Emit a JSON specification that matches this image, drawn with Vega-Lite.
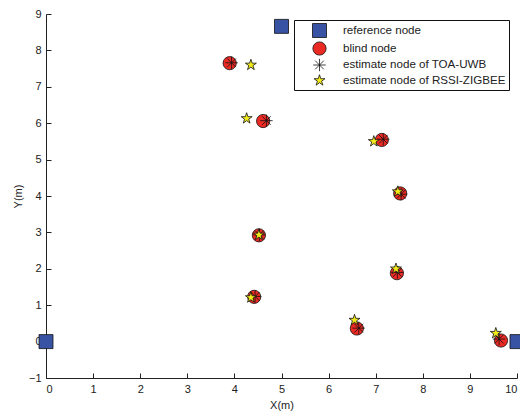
{
  "$schema": "https://vega.github.io/schema/vega-lite/v6.json",
  "autosize": {"type": "none"},
  "padding": {"left": 46, "top": 14, "right": 3, "bottom": 36},
  "width": 471,
  "height": 364,
  "background": "white",
  "config": {
    "view": {"stroke": null},
    "font": "Liberation Sans",
    "axis": {
      "grid": false,
      "domainColor": "#222",
      "tickColor": "#222",
      "labelColor": "#222",
      "titleColor": "#222",
      "labelFont": "Liberation Sans",
      "titleFont": "Liberation Sans",
      "labelFontSize": 11,
      "titleFontSize": 11,
      "titleFontWeight": "normal",
      "tickSize": -5,
      "labelPadding": 10
    }
  },
  "data": {
    "values": [
      {"type": "reference node", "x": 0, "y": 0},
      {"type": "reference node", "x": 5, "y": 8.66},
      {"type": "reference node", "x": 10, "y": 0},
      {"type": "blind node", "x": 3.9, "y": 7.65},
      {"type": "blind node", "x": 4.61, "y": 6.06},
      {"type": "blind node", "x": 7.13, "y": 5.54},
      {"type": "blind node", "x": 7.52, "y": 4.07},
      {"type": "blind node", "x": 4.52, "y": 2.92},
      {"type": "blind node", "x": 7.45, "y": 1.88},
      {"type": "blind node", "x": 4.42, "y": 1.23},
      {"type": "blind node", "x": 6.6, "y": 0.36},
      {"type": "blind node", "x": 9.66, "y": 0.03},
      {"type": "estimate node of TOA-UWB", "x": 3.94, "y": 7.66},
      {"type": "estimate node of TOA-UWB", "x": 4.68, "y": 6.07},
      {"type": "estimate node of TOA-UWB", "x": 7.16, "y": 5.56},
      {"type": "estimate node of TOA-UWB", "x": 7.54, "y": 4.05},
      {"type": "estimate node of TOA-UWB", "x": 4.53, "y": 2.93},
      {"type": "estimate node of TOA-UWB", "x": 7.46, "y": 1.9},
      {"type": "estimate node of TOA-UWB", "x": 4.44, "y": 1.24},
      {"type": "estimate node of TOA-UWB", "x": 6.64, "y": 0.37},
      {"type": "estimate node of TOA-UWB", "x": 9.62, "y": 0.07},
      {"type": "estimate node of RSSI-ZIGBEE", "x": 4.35, "y": 7.6},
      {"type": "estimate node of RSSI-ZIGBEE", "x": 4.26, "y": 6.13},
      {"type": "estimate node of RSSI-ZIGBEE", "x": 6.96, "y": 5.5},
      {"type": "estimate node of RSSI-ZIGBEE", "x": 7.47, "y": 4.12},
      {"type": "estimate node of RSSI-ZIGBEE", "x": 4.52, "y": 2.93},
      {"type": "estimate node of RSSI-ZIGBEE", "x": 7.43, "y": 2.0},
      {"type": "estimate node of RSSI-ZIGBEE", "x": 4.35, "y": 1.21},
      {"type": "estimate node of RSSI-ZIGBEE", "x": 6.55, "y": 0.59},
      {"type": "estimate node of RSSI-ZIGBEE", "x": 9.55, "y": 0.23}
    ]
  },
  "mark": {"type": "point", "filled": true, "stroke": "#111", "opacity": 1, "clip": false},
  "encoding": {
    "x": {
      "field": "x", "type": "quantitative", "title": "X(m)",
      "scale": {"domain": [0, 10], "nice": false, "zero": false},
      "axis": {"values": [0,1,2,3,4,5,6,7,8,9,10], "titlePadding": 5}
    },
    "y": {
      "field": "y", "type": "quantitative", "title": "Y(m)",
      "scale": {"domain": [-1, 9], "nice": false, "zero": false},
      "axis": {"values": [-1,0,1,2,3,4,5,6,7,8,9], "titlePadding": 5}
    },
    "shape": {
      "field": "type", "type": "nominal", "title": null,
      "scale": {
        "domain": ["reference node", "blind node", "estimate node of TOA-UWB", "estimate node of RSSI-ZIGBEE"],
        "range": [
          "square",
          "circle",
          "M-1,0L1,0M0,-1L0,1M-0.7,-0.7L0.7,0.7M-0.7,0.7L0.7,-0.7",
          "M0,-1L0.225,-0.309L0.951,-0.309L0.363,0.118L0.588,0.809L0,0.382L-0.588,0.809L-0.363,0.118L-0.951,-0.309L-0.225,-0.309Z"
        ]
      },
      "legend": {
        "orient": "none",
        "legendX": 248,
        "legendY": 6,
        "strokeColor": "#111",
        "fillColor": "white",
        "padding": 3,
        "symbolOffset": 15,
        "labelOffset": 16,
        "rowPadding": 0,
        "labelFont": "Liberation Sans",
        "labelFontSize": 11.6,
        "labelColor": "#222",
        "labelLimit": 300
      }
    },
    "fill": {
      "field": "type", "type": "nominal", "title": null,
      "scale": {
        "domain": ["reference node", "blind node", "estimate node of TOA-UWB", "estimate node of RSSI-ZIGBEE"],
        "range": ["#3953a4", "#ec2a24", "transparent", "#f3ea1a"]
      }
    },
    "size": {
      "field": "type", "type": "nominal", "title": null,
      "scale": {
        "domain": ["reference node", "blind node", "estimate node of TOA-UWB", "estimate node of RSSI-ZIGBEE"],
        "range": [196, 133, 110, 150]
      }
    },
    "strokeWidth": {
      "field": "type", "type": "nominal", "title": null,
      "scale": {
        "domain": ["reference node", "blind node", "estimate node of TOA-UWB", "estimate node of RSSI-ZIGBEE"],
        "range": [0.8, 0.8, 1.1, 0.8]
      }
    }
  }
}
